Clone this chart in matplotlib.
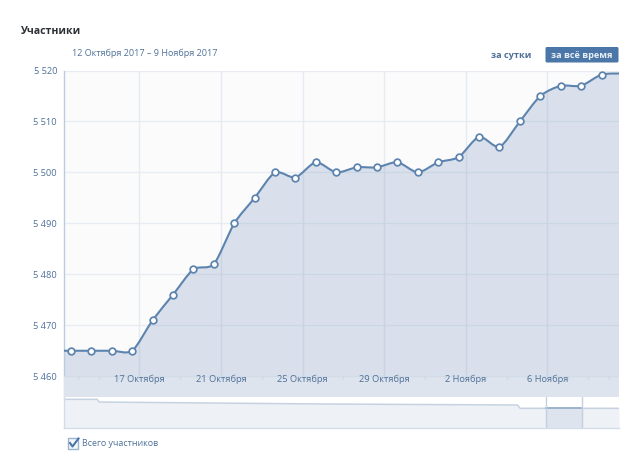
from datetime import datetime

import matplotlib
matplotlib.use('Agg')
import matplotlib.dates as mdates
import matplotlib.pyplot as plt
import numpy as np
from matplotlib.patches import FancyBboxPatch, PathPatch, Rectangle
from matplotlib.path import Path

plt.rcParams['font.family'] = ['Open Sans', 'DejaVu Sans']

# members per day, first and last lie past the edges of the plot
members = [5465, 5465, 5465, 5465, 5465, 5471, 5476, 5481, 5482, 5490, 5495,
           5500, 5499, 5502, 5500, 5501, 5501, 5502, 5500, 5502, 5503,
           5507, 5505, 5510, 5515, 5517, 5517, 5519.2, 5519.4]
first_point = datetime(2017, 10, 12, 15, 40)

y_ticks = [5460, 5470, 5480, 5490, 5500, 5510, 5520]
y_labels = ['5 460', '5 470', '5 480', '5 490', '5 500', '5 510', '5 520']
x_ticks = [datetime(2017, 10, 17), datetime(2017, 10, 21), datetime(2017, 10, 25),
           datetime(2017, 10, 29), datetime(2017, 11, 2), datetime(2017, 11, 6)]
x_labels = ['17 Октября', '21 Октября', '25 Октября', '29 Октября', '2 Ноября', '6 Ноября']

# overview strip under the chart, x as share of the strip width
nav_x = [0.0, 0.06, 0.063, 0.46, 0.817, 0.822, 1.0]
nav_y = [5.55, 5.55, 5.03, 4.65, 4.45, 3.81, 3.81]
nav_window = [0.8685, 0.933]


def bezier_path(xs, ys, smoothing=3.0):
    # slightly rounded line, as on the site
    verts = [(xs[0], ys[0])]
    codes = [Path.MOVETO]
    right_prev = (xs[0], ys[0])
    for i in range(1, len(xs)):
        x, y = xs[i], ys[i]
        if i < len(xs) - 1:
            lx = (smoothing * x + xs[i - 1]) / (smoothing + 1)
            ly = (smoothing * y + ys[i - 1]) / (smoothing + 1)
            rx = (smoothing * x + xs[i + 1]) / (smoothing + 1)
            ry = (smoothing * y + ys[i + 1]) / (smoothing + 1)
            shift = (ry - ly) * (rx - x) / (rx - lx) + y - ry
            ly += shift
            ry += shift
        else:
            lx, ly, rx, ry = x, y, x, y
        verts += [right_prev, (lx, ly), (x, y)]
        codes += [Path.CURVE4] * 3
        right_prev = (rx, ry)
    return verts, codes


W, H = 640, 470
LEFT, RIGHT, TOP, BOTTOM = 64, 619, 70.5, 397
LINE = '#5d84ae'
TICK_TEXT = '#4f7199'

fig = plt.figure(figsize=(W / 100, H / 100), dpi=100, facecolor='white')
ax = fig.add_axes([LEFT / W, 1 - BOTTOM / H, (RIGHT - LEFT) / W, (BOTTOM - TOP) / H])

x = mdates.date2num(first_point) + np.arange(len(members))
y_low = 5460 - (BOTTOM - 376.3) / 5.08
x_min = mdates.date2num(datetime(2017, 10, 13, 7, 25))
x_max = mdates.date2num(datetime(2017, 11, 9, 12, 15))
ax.set_xlim(x_min, x_max)
ax.set_ylim(y_low, 5520)
ax.set_facecolor('#fbfbfc')

ax.set_yticks(y_ticks, y_labels)
ax.set_xticks(mdates.date2num(x_ticks), x_labels)
ax.tick_params(axis='both', length=0, labelsize=6.7, labelcolor=TICK_TEXT)
ax.tick_params(axis='y', pad=5)
ax.tick_params(axis='x', pad=-16)
ax.xaxis.set_zorder(6)
ax.yaxis.set_zorder(6)
ax.hlines(y_ticks[1:], x_min, x_max, color='#e9edf3', lw=1, zorder=1)
ax.vlines(mdates.date2num(x_ticks), 5460, 5520, color='#e6eaf1', lw=1, zorder=1)
for side in ['top', 'right', 'bottom']:
    ax.spines[side].set_visible(False)
ax.spines['left'].set_color('#b9cce0')
ax.spines['left'].set_linewidth(1)

verts, codes = bezier_path(x, members)
fill_verts = verts + [(x[-1], y_low), (x[0], y_low), (x[0], members[0])]
fill_codes = codes + [Path.LINETO, Path.LINETO, Path.CLOSEPOLY]
ax.add_patch(PathPatch(Path(fill_verts, fill_codes), fc='#6d8db5', alpha=0.24, ec='none', zorder=2))
ax.axhspan(y_low, 5460, color='#dde4ee', lw=0, zorder=3)
ax.axhline(5460, color='#d2dbe7', lw=1, zorder=3)
ax.add_patch(PathPatch(Path(verts, codes), fc='none', ec=LINE, lw=1.5, zorder=4))
# no markers for the two points outside the plot
ax.plot(x[1:-1], members[1:-1], ls='none', marker='o', ms=4.8, mfc='white', mec=LINE, mew=1.25, zorder=5)

days = mdates.date2num(datetime(2017, 10, 14)) + np.arange(27)
ax.vlines(days, 5460 - 2.6 / 5.08, 5460, color='#cfd9e6', lw=1, zorder=3)

# overview strip
nav = fig.add_axes([LEFT / W, 1 - 428 / H, (RIGHT - LEFT) / W, 31 / H])
nav.set_xlim(0, 1)
nav.set_ylim(0, 6)
nav.set_xticks([])
nav.set_yticks([])
nav.fill_between(nav_x, nav_y, 0, color='#eef1f6', lw=0, zorder=1)
nav.plot(nav_x, nav_y, color='#c6d2e0', lw=1.1, zorder=2)
nav.axvspan(nav_window[0], nav_window[1], ymin=0, ymax=nav_y[-1] / 6, color='#dde4ed', lw=0, zorder=3)
nav.plot(nav_window, [nav_y[-1], nav_y[-1]], color='#8aa5c3', lw=1.1, zorder=4)
nav.axvline(nav_window[0], color='#c3d0df', lw=1, zorder=4)
nav.axvline(nav_window[1], color='#c3d0df', lw=1, zorder=4)
for side in ['top', 'right']:
    nav.spines[side].set_visible(False)
for side in ['left', 'bottom']:
    nav.spines[side].set_color('#d3dde9')
    nav.spines[side].set_linewidth(1)

# page furniture, in pixels
page = fig.add_axes([0, 0, 1, 1], facecolor='none')
page.set_xlim(0, W)
page.set_ylim(H, 0)
page.axis('off')

page.text(21, 31, 'Участники', fontsize=7.6, fontweight='bold', color='#2b2f33', va='center')
page.text(72, 53.5, '12 Октября 2017 – 9 Ноября 2017', fontsize=6.5, color=TICK_TEXT, va='center')
page.text(491, 55.5, 'за сутки', fontsize=6.6, fontweight='bold', color='#4f6f98', va='center')
page.add_patch(FancyBboxPatch((545.5, 47), 73, 15.5, boxstyle='round,pad=0,rounding_size=1.5',
                              fc='#4a76a8', ec='none'))
page.text(582, 55.5, 'за всё время', fontsize=6.6, fontweight='bold', color='#e9eff6',
          ha='center', va='center')

page.add_patch(Rectangle((67.5, 438), 10, 10.5, fc='#f4f7fa', ec='#9db5cf', lw=1))
page.plot([70, 72.5, 78.5], [443, 446.5, 438.5], color='#4a76a8', lw=1.5)
page.text(82, 443.5, 'Всего участников', fontsize=6.4, color=TICK_TEXT, va='center')

fig.savefig('out.png', dpi=100)
